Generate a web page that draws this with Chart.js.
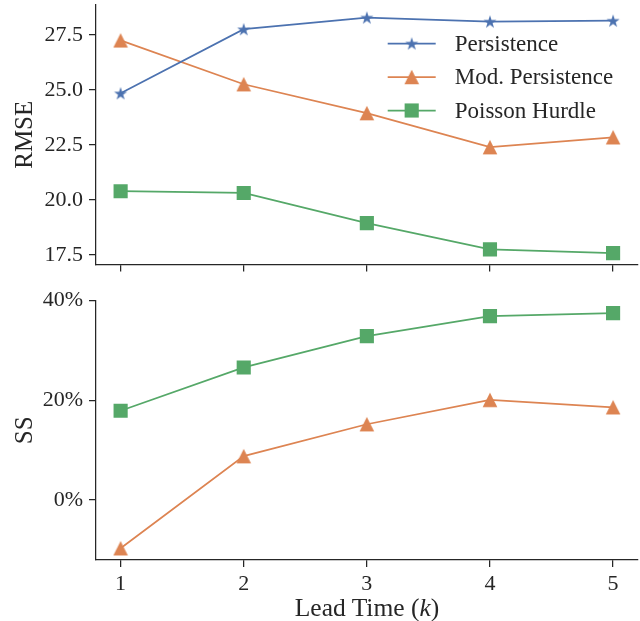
<!DOCTYPE html>
<html>
<head>
<meta charset="utf-8">
<script src="https://cdn.jsdelivr.net/npm/chart.js@4.4.0/dist/chart.umd.min.js"></script>
<style>
  html, body { margin: 0; padding: 0; background: #fff; }
  #wrap { position: relative; width: 640px; height: 621px; }
  #rmseWrap { position: absolute; left: 0; top: 0; width: 640px; height: 280px; }
  #ssWrap { position: absolute; left: 0; top: 280px; width: 640px; height: 341px; }
  #xTitle {
    position: absolute; left: 96px; width: 542px; top: 593px;
    text-align: center; font: 25.5px 'Liberation Serif', serif; color: #262626;
  }
</style>
</head>
<body>
<div id="wrap">
  <div id="rmseWrap"><canvas id="rmseChart"></canvas></div>
  <div id="ssWrap"><canvas id="ssChart"></canvas></div>
  <div id="xTitle">Lead Time (<i>k</i>)</div>
</div>
<script>
// Data
const leadTimes = [1, 2, 3, 4, 5];
const rmsePersistence = [24.85, 27.76, 28.29, 28.11, 28.15];
const rmseModPersistence = [27.25, 25.26, 23.95, 22.4, 22.85];
const rmseHurdle = [20.4, 20.32, 18.95, 17.76, 17.59];
const ssModPersistence = [-9.7, 8.8, 15.2, 20.1, 18.6];
const ssHurdle = [17.9, 26.6, 32.9, 36.9, 37.5];
const rmseTicks = [17.5, 20, 22.5, 25, 27.5];
const ssTicks = [0, 20, 40];

const BLUE = '#4c72b0';
const ORANGE = '#dd8452';
const GREEN = '#55a868';
const INK = '#262626';
const SERIF = "'Liberation Serif', 'Times New Roman', serif";

Chart.defaults.font.family = SERIF;
Chart.defaults.color = INK;

// matplotlib-like markers as small canvases (filled star, isosceles triangle)
function markerCanvas(color, size, drawPath) {
  const c = document.createElement('canvas');
  c.width = size;
  c.height = size;
  const ctx = c.getContext('2d');
  ctx.fillStyle = color;
  ctx.beginPath();
  drawPath(ctx, size / 2);
  ctx.closePath();
  ctx.fill();
  return c;
}

function starMarker(color) {
  return markerCanvas(color, 16, (ctx, m) => {
    for (let i = 0; i < 10; i++) {
      const r = i % 2 === 0 ? 6.9 : 2.65;
      const a = -Math.PI / 2 + (i * Math.PI) / 5;
      const px = m + r * Math.cos(a);
      const py = m + 0.6 + r * Math.sin(a);
      if (i === 0) ctx.moveTo(px, py);
      else ctx.lineTo(px, py);
    }
  });
}

function triangleMarker(color) {
  return markerCanvas(color, 16, (ctx, m) => {
    ctx.moveTo(m, m - 7.3);
    ctx.lineTo(m + 7.3, m + 7.3);
    ctx.lineTo(m - 7.3, m + 7.3);
  });
}

function series(label, values, color, style, radius) {
  return {
    label: label,
    data: leadTimes.map((k, i) => ({ x: k, y: values[i] })),
    borderColor: color,
    backgroundColor: color,
    borderWidth: 1.75,
    pointStyle: style,
    pointRadius: radius,
    pointHoverRadius: radius,
    pointBorderWidth: 0,
  };
}

const axisLine = { color: INK, width: 1.25 };
const tickMarks = { drawOnChartArea: false, tickLength: 7, color: INK, lineWidth: 1.25 };

function noEdgePadding(scale) {
  scale.paddingTop = 0;
  scale.paddingBottom = 0;
  scale.paddingLeft = 0;
  scale.paddingRight = 0;
}

function xScale(showLabels, height) {
  return {
    type: 'linear',
    min: 0.8,
    max: 5.2,
    afterBuildTicks: (s) => {
      s.ticks = leadTimes.map((v) => ({ value: v }));
    },
    ticks: { display: showLabels, font: { size: 22 }, padding: 4, maxRotation: 0 },
    grid: tickMarks,
    border: axisLine,
    afterFit: (s) => {
      s.height = height;
      noEdgePadding(s);
    },
  };
}

function yScale(min, max, ticks, fmt, title) {
  return {
    min: min,
    max: max,
    afterBuildTicks: (s) => {
      s.ticks = ticks.map((v) => ({ value: v }));
    },
    ticks: { font: { size: 22 }, padding: 6, callback: fmt },
    grid: tickMarks,
    border: axisLine,
    title: { display: true, text: title, font: { size: 25 }, padding: { top: 10, bottom: 0 } },
    afterFit: (s) => {
      s.width = 96;
      noEdgePadding(s);
    },
  };
}

// legend drawn inside the plot, line + marker like matplotlib
const insideLegend = {
  id: 'insideLegend',
  afterDatasetsDraw(chart) {
    const ctx = chart.ctx;
    const area = chart.chartArea;
    const x0 = area.right - 250;
    ctx.save();
    ctx.font = '23px ' + SERIF;
    ctx.textBaseline = 'middle';
    chart.data.datasets.forEach((ds, i) => {
      const y = area.top + 38.5 + i * 33.5;
      ctx.strokeStyle = ds.borderColor;
      ctx.lineWidth = ds.borderWidth;
      ctx.beginPath();
      ctx.moveTo(x0, y);
      ctx.lineTo(x0 + 48, y);
      ctx.stroke();
      ctx.fillStyle = ds.backgroundColor;
      Chart.helpers.drawPoint(
        ctx,
        { pointStyle: ds.pointStyle, radius: ds.pointRadius, rotation: 0, borderWidth: 0 },
        x0 + 24,
        y
      );
      ctx.fillStyle = INK;
      ctx.fillText(ds.label, x0 + 67, y + 1);
    });
    ctx.restore();
  },
};

const star = starMarker(BLUE);
const triangle = triangleMarker(ORANGE);

// RMSE panel
new Chart(document.getElementById('rmseChart'), {
  type: 'line',
  data: {
    datasets: [
      series('Persistence', rmsePersistence, BLUE, star, 7),
      series('Mod. Persistence', rmseModPersistence, ORANGE, triangle, 8),
      series('Poisson Hurdle', rmseHurdle, GREEN, 'rect', 10),
    ],
  },
  options: {
    responsive: true,
    maintainAspectRatio: false,
    animation: false,
    layout: { autoPadding: false, padding: { top: 5, right: 2.3, left: 0, bottom: 0 } },
    scales: {
      x: xScale(false, 15.5),
      y: yScale(17.07, 28.86, rmseTicks, (v) => v.toFixed(1), 'RMSE'),
    },
    plugins: { legend: { display: false }, tooltip: { enabled: false } },
  },
  plugins: [insideLegend],
});

// Skill score panel
new Chart(document.getElementById('ssChart'), {
  type: 'line',
  data: {
    datasets: [
      series('Mod. Persistence', ssModPersistence, ORANGE, triangle, 8),
      series('Poisson Hurdle', ssHurdle, GREEN, 'rect', 10),
    ],
  },
  options: {
    responsive: true,
    maintainAspectRatio: false,
    animation: false,
    layout: { autoPadding: false, padding: { top: 20.7, right: 2.3, left: 0, bottom: 0 } },
    scales: {
      x: xScale(true, 61),
      y: yScale(-12.05, 40, ssTicks, (v) => v + '%', 'SS'),
    },
    plugins: { legend: { display: false }, tooltip: { enabled: false } },
  },
});
</script>
</body>
</html>
